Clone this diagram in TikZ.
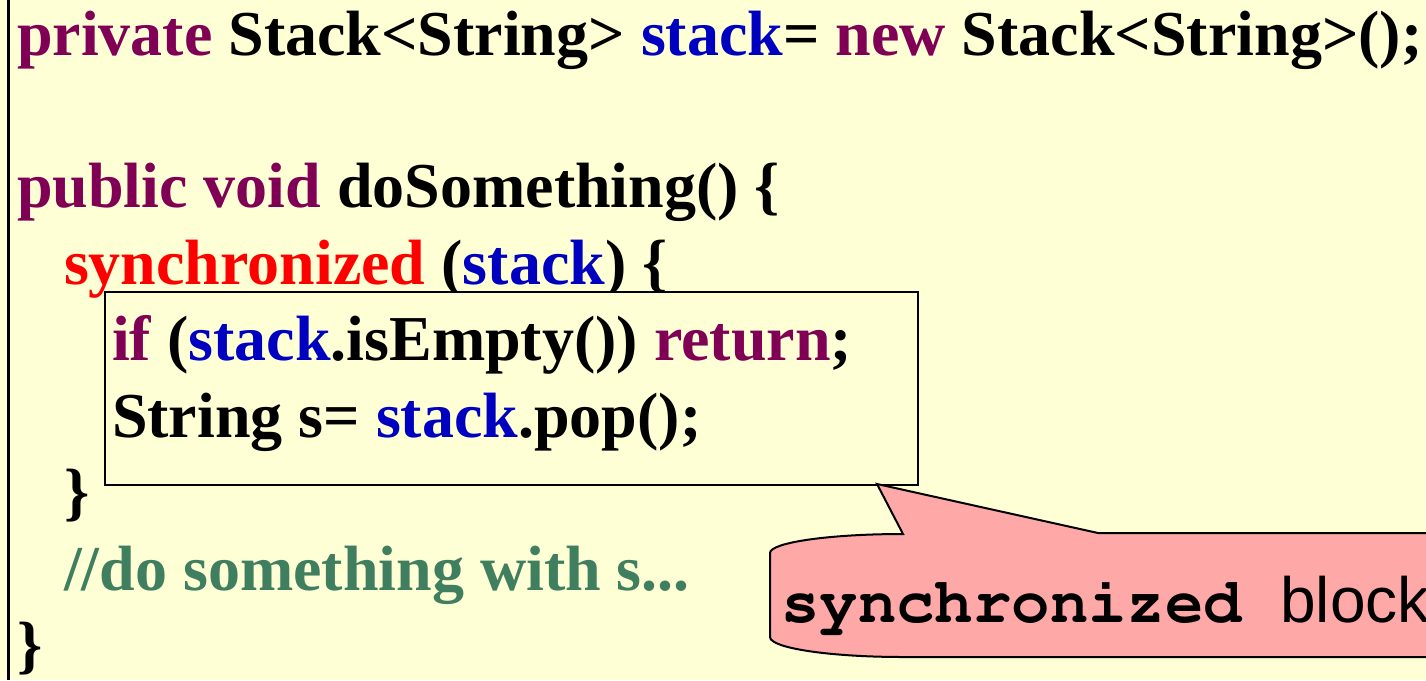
\documentclass[tikz,border=0pt]{standalone}
\usepackage[T1]{fontenc}
\usepackage{fontspec}
\setmainfont{Liberation Serif}
\newfontfamily\csans{Liberation Sans}
\newcommand{\cmono}{\fontencoding{T1}\fontfamily{pcr}\fontseries{b}\selectfont}
\definecolor{bgc}{RGB}{255,255,214}
\definecolor{kwc}{RGB}{127,0,85}
\definecolor{fldc}{RGB}{0,0,192}
\definecolor{syc}{RGB}{255,0,0}
\definecolor{cmc}{RGB}{63,127,95}
\definecolor{pinkc}{RGB}{255,168,168}
\tikzset{
  code/.style={anchor=base west, inner sep=0pt, outer sep=0pt, font=\fontsize{64}{76}\selectfont\bfseries},
  blockbox/.style={draw=black, line width=2pt, fill=bgc, anchor=north west, inner sep=0pt, minimum width=813pt, minimum height=193pt},
  callout/.style={draw=black, fill=pinkc, line width=2pt, line join=miter},
  frameline/.style={draw=black, line width=2.5pt}
}
\newcommand{\kw}[1]{\textcolor{kwc}{#1}}
\newcommand{\fld}[1]{\textcolor{fldc}{#1}}
\begin{document}
\begin{tikzpicture}[x=1pt,y=1pt]
\fill[bgc] (0,0) rectangle (1426,-680);
\useasboundingbox (0,0) rectangle (1426,-680);
\coordinate (ftop) at (8.5,0);
\coordinate (fbot) at (8.5,-680);
\draw[frameline] (ftop) -- (fbot);
% code lines
\node[code] (l1) at (17,-55) {\kw{private} Stack<String> \fld{stack}= \kw{new} Stack<String>();};
\node[code] (l3) at (17,-207) {\kw{public void} doSomething() \{};
\node[code] (l4) at (64,-284) {\textcolor{syc}{synchronized} (\fld{stack}) \{};
\node[blockbox] (blk) at (104,-291) {};
\node[code] (l5) at (112,-360) {\kw{if} (\fld{stack}.isEmpty()) \kw{return};};
\node[code] (l6) at (112,-437) {String s= \fld{stack}.pop();};
\node[code] (l7) at (64,-513) {\}};
\node[code,text=cmc] (l8) at (64,-590) {//do something with s...};
\node[code] (l9) at (17,-666) {\}};
% callout
\coordinate (tip) at (877,-484);
\begin{scope}
\clip (0,0) rectangle (1426,-680);
\path[callout] (903,-534) -- (tip) -- (1098,-533) -- (1440,-533) -- (1440,-657) -- (903,-657)
  arc[start angle=270, end angle=180, x radius=133, y radius=20] -- (770,-553)
  arc[start angle=180, end angle=90, x radius=133, y radius=19] -- cycle;
\end{scope}
\node[anchor=base west, inner sep=0pt, font=\fontsize{64}{76}\selectfont] (ctext) at (781,-622) {{\cmono synchronized }{\csans block}};
\end{tikzpicture}
\end{document}
